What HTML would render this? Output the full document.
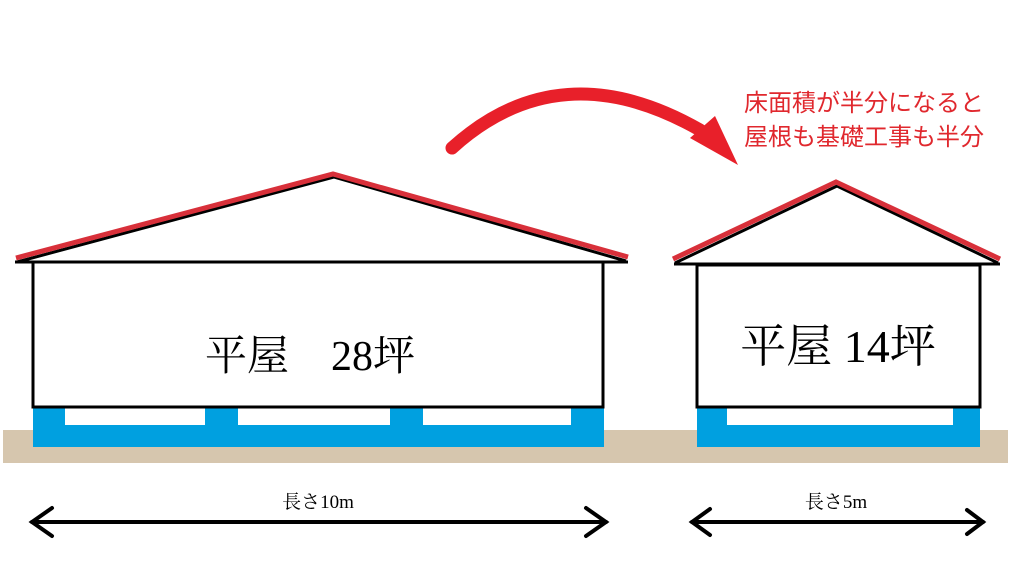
<!DOCTYPE html>
<html><head><meta charset="utf-8"><style>
html,body{margin:0;padding:0;background:#fff;}
svg{display:block;}
</style></head><body>
<svg width="1024" height="577" viewBox="0 0 1024 577" xmlns="http://www.w3.org/2000/svg">
<rect x="3" y="430" width="1005" height="33" fill="#d6c6ae"/>
<!-- left house -->
<rect x="33" y="405" width="571" height="42" fill="#00a0e0"/>
<rect x="65" y="407" width="140" height="18" fill="#fff"/>
<rect x="238" y="407" width="152" height="18" fill="#fff"/>
<rect x="423" y="407" width="148" height="18" fill="#fff"/>
<rect x="33" y="262" width="570" height="145" fill="#fff" stroke="#000" stroke-width="3"/>
<polyline points="17,262 334,177 626,261" fill="none" stroke="#000" stroke-width="3"/>
<polyline points="16,258 333,174 628,257" fill="none" stroke="#d8303a" stroke-width="5"/>
<line x1="15" y1="262" x2="628" y2="262" stroke="#000" stroke-width="3"/>
<text x="310" y="370" font-family="Liberation Serif,'Noto Serif CJK SC',serif" font-size="42" text-anchor="middle">平屋　28坪</text>
<!-- right house -->
<rect x="697" y="405" width="283" height="42" fill="#00a0e0"/>
<rect x="727" y="407" width="226" height="18" fill="#fff"/>
<rect x="697" y="265" width="283" height="142" fill="#fff" stroke="#000" stroke-width="3"/>
<polyline points="675,263 837,186 998,263" fill="none" stroke="#000" stroke-width="3"/>
<polyline points="673,259 836,182 1000,259" fill="none" stroke="#d8303a" stroke-width="5"/>
<line x1="674" y1="264" x2="1000" y2="264" stroke="#000" stroke-width="3"/>
<text x="838" y="362" font-family="Liberation Serif,'Noto Serif CJK SC',serif" font-size="46" text-anchor="middle">平屋 14坪</text>
<!-- curved arrow -->
<path d="M452,148 Q560,50 700,130" fill="none" stroke="#e8202a" stroke-width="13" stroke-linecap="round"/>
<polygon points="690,138 715,116 738,165" fill="#e8202a"/>
<text font-family="Liberation Sans,'Noto Sans CJK JP',sans-serif" font-size="24" fill="#e0282e">
<tspan x="744" y="111">床面積が半分になると</tspan>
<tspan x="744" y="145">屋根も基礎工事も半分</tspan>
</text>
<!-- dimension arrows -->
<g stroke="#000" stroke-width="4" fill="none" stroke-linecap="round">
<line x1="32" y1="522" x2="606" y2="522"/>
<polyline points="52,508 32,522 52,536"/>
<polyline points="586,508 606,522 586,536"/>
<line x1="692" y1="522" x2="983" y2="522"/>
<polyline points="710,509 692,522 710,535"/>
<polyline points="967,510 983,522 967,534"/>
</g>
<text x="318" y="508" font-family="Liberation Serif,'Noto Serif CJK SC',serif" font-size="19" text-anchor="middle">長さ10m</text>
<text x="836" y="508" font-family="Liberation Serif,'Noto Serif CJK SC',serif" font-size="19" text-anchor="middle">長さ5m</text>
</svg>
</body></html>
